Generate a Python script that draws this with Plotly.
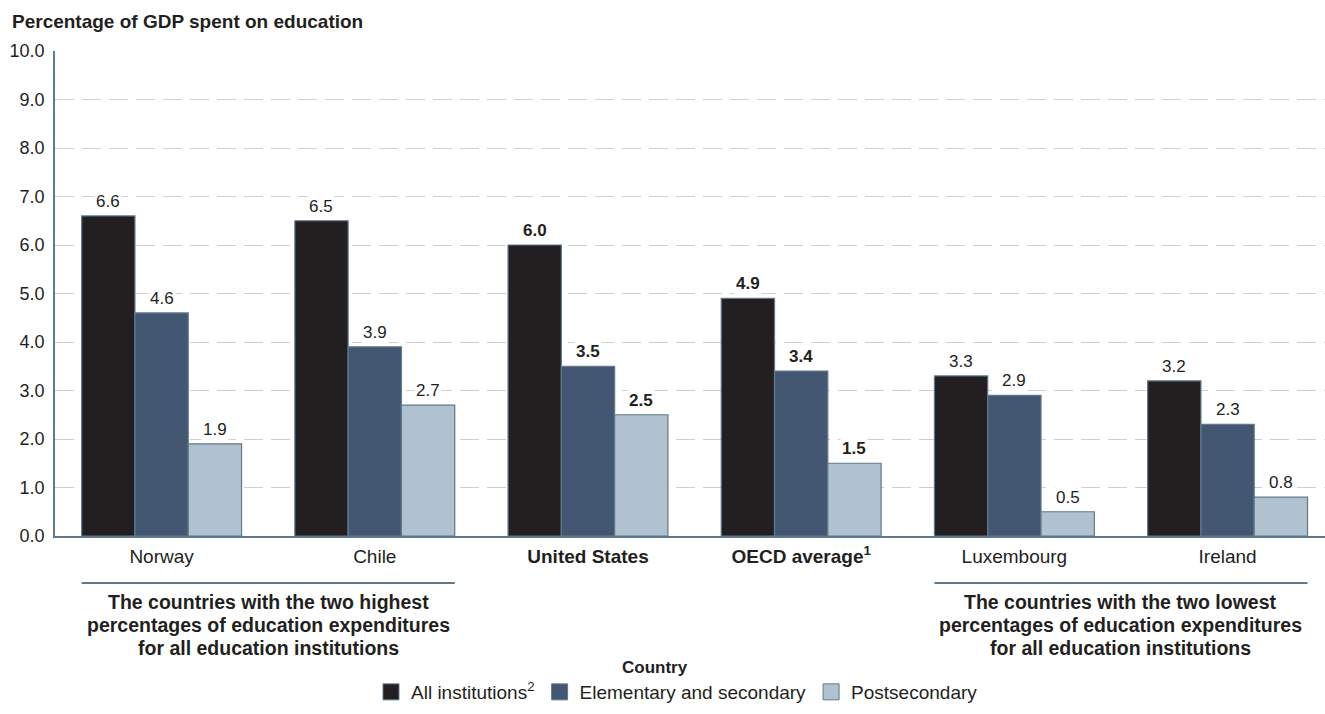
import plotly.graph_objects as go

# Categories and series
countries = ["Norway", "Chile", "United States", "OECD average", "Luxembourg", "Ireland"]
tick_text = ["Norway", "Chile", "<b>United States</b>", "<b>OECD average<sup>1</sup></b>",
             "Luxembourg", "Ireland"]
all_institutions = [6.6, 6.5, 6.0, 4.9, 3.3, 3.2]
elementary_secondary = [4.6, 3.9, 3.5, 3.4, 2.9, 2.3]
postsecondary = [1.9, 2.7, 2.5, 1.5, 0.5, 0.8]
bold_categories = {"United States", "OECD average"}

series = [
    ("All institutions<sup>2</sup>", all_institutions, "#231f20"),
    ("Elementary and secondary", elementary_secondary, "#435672"),
    ("Postsecondary", postsecondary, "#b0c1cf"),
]

high_group_lines = ["The countries with the two highest",
                    "percentages of education expenditures",
                    "for all education institutions"]
low_group_lines = ["The countries with the two lowest",
                   "percentages of education expenditures",
                   "for all education institutions"]

FONT = "Arial, Liberation Sans, sans-serif"
TEXT = "#231f20"
EDGE = "#5f7a8b"

# Plot area geometry in pixels (used to convert pixel offsets to paper units)
M_L, M_T, M_B, W, H = 55, 51, 178, 1325, 714
PLOT_H = H - M_T - M_B
PLOT_W = W - M_L


def py(pix):
    """Paper y for a pixel row in the page."""
    return (H - M_B - pix) / PLOT_H


def px(pix):
    """Paper x for a pixel column in the page."""
    return (pix - M_L) / PLOT_W


fig = go.Figure()
for name, vals, color in series:
    fig.add_trace(go.Bar(
        x=countries, y=vals, name=name,
        marker=dict(color=color, line=dict(color=EDGE, width=1.2)),
        hoverinfo="x+y", showlegend=False,
    ))
    # legend entry with a larger square swatch
    fig.add_trace(go.Scatter(
        x=[None], y=[None], mode="markers", name=name,
        marker=dict(symbol="square", size=16, color=color, line=dict(color=EDGE, width=1)),
        hoverinfo="skip",
    ))

# Value labels above each bar (white box hides the gridline behind them)
bar_px = 53.3
annotations = []
for i, (name, vals, color) in enumerate(series):
    for c, v in zip(countries, vals):
        label = f"{v:.1f}"
        if c in bold_categories:
            label = f"<b>{label}</b>"
        annotations.append(dict(
            x=c, y=v, xref="x", yref="y", text=label, showarrow=False,
            xshift=(i - 1) * bar_px, yanchor="bottom", yshift=3,
            bgcolor="white", borderpad=1,
            font=dict(family=FONT, size=17, color=TEXT),
        ))

# Y-axis title at the top left
annotations.append(dict(
    x=px(10), y=py(22), xref="paper", yref="paper",
    text="<b>Percentage of GDP spent on education</b>",
    showarrow=False, xanchor="left", yanchor="middle",
    font=dict(family=FONT, size=19, color=TEXT),
))

# Group brackets below the axis
groups = [(-0.375, 1.375, high_group_lines), (3.625, 5.375, low_group_lines)]
shapes = []
line_rows = [602, 625, 648]
for x0, x1, lines in groups:
    shapes.append(dict(type="line", xref="x", yref="paper", x0=x0, x1=x1,
                       y0=py(583), y1=py(583), line=dict(color=EDGE, width=2)))
    for row, txt in zip(line_rows, lines):
        annotations.append(dict(
            x=(x0 + x1) / 2, y=py(row), xref="x", yref="paper", text=f"<b>{txt}</b>",
            showarrow=False, xanchor="center", yanchor="middle",
            font=dict(family=FONT, size=19.5, color=TEXT),
        ))

# X-axis title
annotations.append(dict(
    x=px(655), y=py(667), xref="paper", yref="paper", text="<b>Country</b>",
    showarrow=False, xanchor="center", yanchor="middle",
    font=dict(family=FONT, size=17, color=TEXT),
))

fig.update_layout(
    width=W, height=H,
    margin=dict(l=M_L, r=0, t=M_T, b=M_B),
    paper_bgcolor="white", plot_bgcolor="white",
    barmode="group", bargap=0.25, bargroupgap=0,
    font=dict(family=FONT, size=16, color=TEXT),
    annotations=annotations, shapes=shapes,
    showlegend=True,
    legend=dict(
        orientation="h", x=px(371), xanchor="left", y=py(692), yanchor="middle",
        font=dict(family=FONT, size=19, color=TEXT), itemwidth=30,
        traceorder="normal", tracegroupgap=0,
    ),
)
fig.update_xaxes(
    type="category", range=[-0.5, 5.457],
    tickmode="array", tickvals=countries, ticktext=tick_text,
    showline=True, linecolor=EDGE, linewidth=1.5, showgrid=False,
    ticks="", ticklabelstandoff=2,
    tickfont=dict(family=FONT, size=19, color=TEXT),
)
fig.update_yaxes(
    range=[0, 10], dtick=1, tickformat=".1f",
    showline=True, linecolor=EDGE, linewidth=1.5,
    showgrid=True, gridcolor="#cfcfcf", gridwidth=1, griddash="19px,8px",
    zeroline=False, ticks="", ticklabelstandoff=5,
    tickfont=dict(family=FONT, size=18, color=TEXT),
)

fig.write_html("out.html")
